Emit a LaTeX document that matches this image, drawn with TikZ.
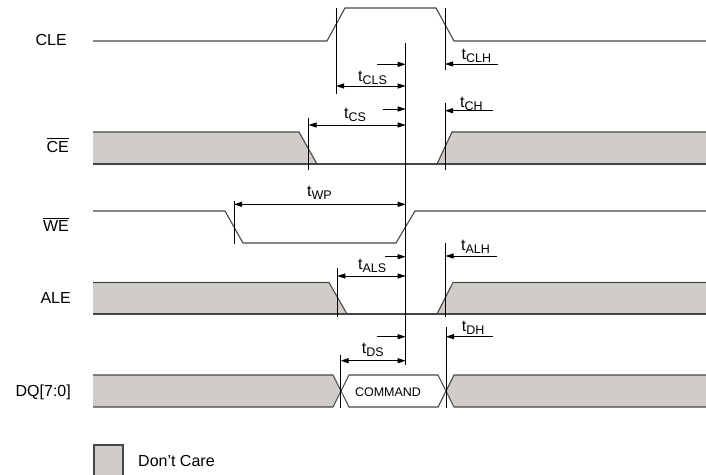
\documentclass[tikz,border=0pt]{standalone}
\usepackage{fontspec}
\setmainfont{Liberation Sans}
\usetikzlibrary{arrows.meta}
\definecolor{dcgrey}{RGB}{208,205,200}
\definecolor{wavegrey}{RGB}{70,70,70}
\newcommand{\tsub}[1]{t\raisebox{-3pt}{\fontsize{12.5}{14}\selectfont #1}}
\newcommand{\ovl}[1]{\vbox{\hrule height 0.9pt\kern 2.2pt\hbox{#1}}}

\begin{document}
\begin{tikzpicture}[x=1pt,y=-1pt,font=\fontsize{16}{19}\selectfont,
  wave/.style={draw=wavegrey,line width=1.1pt},
  dcfill/.style={fill=dcgrey},
  refline/.style={draw=black,line width=0.9pt},
  dimarrow/.style={-{Triangle[length=8pt,width=5pt]},line width=0.9pt},
  dimboth/.style={{Triangle[length=8pt,width=5pt]}-{Triangle[length=8pt,width=5pt]},line width=0.9pt},
  signame/.style={anchor=base east,inner sep=0pt},
  tlabel/.style={anchor=base west,inner sep=0pt}]

\useasboundingbox (0,0) rectangle (706,474);

% signal names
\node[signame] (clelbl) at (67,45.5) {CLE};
\node[signame] (celbl) at (69,152.7) {\ovl{CE}};
\node[signame] (welbl) at (69,231.7) {\ovl{WE}};
\node[signame] (alelbl) at (71,303.3) {ALE};
\node[signame] (dqlbl) at (71,396.7) {DQ[7:0]};

% CLE
\draw[wave] (93,41) -- (327,41) -- (345,8) -- (436,8) -- (454,41) -- (706,41);

% CE
\fill[dcfill] (93,132) -- (299,132) -- (317,164) -- (93,164) -- cycle;
\fill[dcfill] (437,164) -- (452,132) -- (706,132) -- (706,164) -- cycle;
\draw[wave] (93,132) -- (299,132) -- (317,164);
\draw[wave] (93,164) -- (706,164);
\draw[wave] (437,164) -- (452,132) -- (706,132);

% WE
\draw[wave] (93,211) -- (225,211) -- (243,243) -- (396,243) -- (415,211) -- (706,211);

% ALE
\fill[dcfill] (93,282.5) -- (329,282.5) -- (347,314) -- (93,314) -- cycle;
\fill[dcfill] (437,314) -- (453,282.5) -- (706,282.5) -- (706,314) -- cycle;
\draw[wave] (93,282.5) -- (329,282.5) -- (347,314);
\draw[wave] (93,314) -- (706,314);
\draw[wave] (437,314) -- (453,282.5) -- (706,282.5);

% DQ[7:0]
\fill[dcfill] (93,375) -- (333,375) -- (341,391) -- (333,407) -- (93,407) -- cycle;
\fill[dcfill] (446,391) -- (454,375) -- (706,375) -- (706,407) -- (454,407) -- cycle;
\draw[wave] (93,375) -- (333,375) -- (349,407) -- (438,407) -- (454,375) -- (706,375);
\draw[wave] (93,407) -- (333,407) -- (349,375) -- (438,375) -- (454,407) -- (706,407);
\node[font=\fontsize{12.5}{14}\selectfont] (cmd) at (388,391.7) {COMMAND};

% reference lines
\draw[refline] (405.7,43) -- (405.7,365);
\draw[refline] (336,8) -- (336,94);
\draw[refline] (445,8) -- (445,70);
\draw[refline] (445,103) -- (445,170);
\draw[refline] (308.5,117.7) -- (308.5,170);
\draw[refline] (234,201) -- (234,244);
\draw[refline] (337.3,267.7) -- (337.3,317);
\draw[refline] (445.5,242.7) -- (445.5,317);
\draw[refline] (340.7,355) -- (340.7,408);
\draw[refline] (446,327) -- (446,408);

% timing labels
\node[tlabel] (tclh) at (461.5,59.5) {\tsub{CLH}};
\node[tlabel] (tcls) at (358,81) {\tsub{CLS}};
\node[tlabel] (tch) at (460,107.5) {\tsub{CH}};
\node[tlabel] (tcs) at (344,118) {\tsub{CS}};
\node[tlabel] (twp) at (307,196.7) {\tsub{WP}};
\node[tlabel] (tals) at (358,269.3) {\tsub{ALS}};
\node[tlabel] (talh) at (461,250) {\tsub{ALH}};
\node[tlabel] (tds) at (361.7,353.3) {\tsub{DS}};
\node[tlabel] (tdh) at (461.7,331.7) {\tsub{DH}};

% timing arrows
\draw[dimarrow] (498,64) -- (445,64);
\draw[dimarrow] (377,64.3) -- (405.7,64.3);
\draw[dimboth] (336,86) -- (405.7,86);
\draw[dimarrow] (493,110.7) -- (445,110.7);
\draw[dimarrow] (382.7,109) -- (405.7,109);
\draw[dimboth] (308.5,125) -- (405.7,125);
\draw[dimboth] (234,204.3) -- (405.7,204.3);
\draw[dimarrow] (385,256.7) -- (405.7,256.7);
\draw[dimboth] (337.3,276) -- (405.7,276);
\draw[dimarrow] (496.7,256) -- (445.5,256);
\draw[dimarrow] (376.7,336.7) -- (405.7,336.7);
\draw[dimboth] (340.7,360.7) -- (405.7,360.7);
\draw[dimarrow] (493.3,336.7) -- (446,336.7);

% legend
\draw[wave,dcfill] (94,445) rectangle (123,477);
\node[tlabel] (dclbl) at (138,466) {Don’t Care};
\end{tikzpicture}
\end{document}
